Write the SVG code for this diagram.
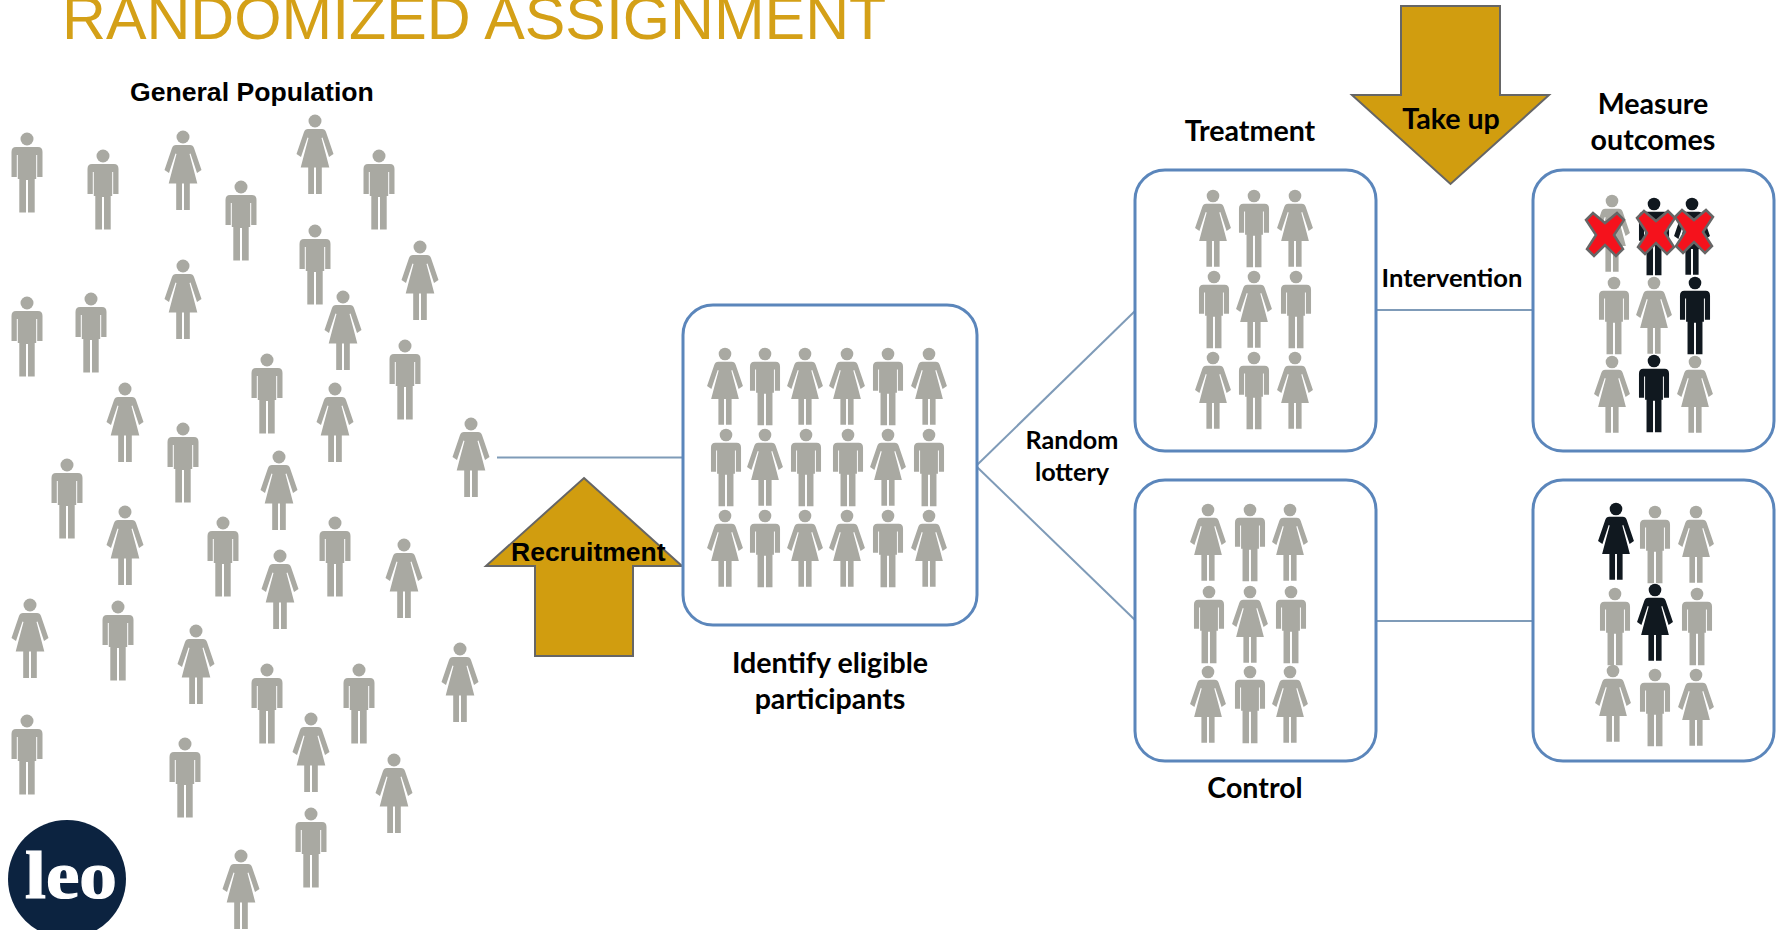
<svg xmlns="http://www.w3.org/2000/svg" width="1778" height="930" viewBox="0 0 1778 930">
<style>
.g{fill:#a9a9a2}.k{fill:#10181f}.box{fill:#fff;stroke:#5b86bb;stroke-width:3}
.c{fill:none;stroke:#7f9bb8;stroke-width:2}
.arrow{fill:#d19d0f;stroke:#666;stroke-width:2}
.x{fill:#f5121c;stroke:#666;stroke-width:2.5}
.a{font-family:"Liberation Sans",Arial,sans-serif;font-weight:700;fill:#000}
.l{font-family:"Lato","Noto Sans",sans-serif;font-weight:700;fill:#000;text-anchor:middle;font-size:28.6px}
</style>
<defs>
<g id="m"><circle r="6.5"/><path d="M-11,8H11Q15.5,8 15.5,13V38H10.2V16H9.2V40H7.7V73.5H1V41H-1V73.5H-7.7V40H-9.2V16H-10.2V38H-15.5V13Q-15.5,8 -11,8Z"/></g>
<g id="w"><circle r="6.5"/><path d="M-7,8H7Q10,8 11,11L18.5,33L14,36L7.5,16.5L6.5,17L10.5,32L14.3,46.5H6.8V73H1V46.5H-1V73H-6.8V46.5H-14.3L-10.5,32L-6.5,17L-7.5,16.5L-14,36L-18.5,33L-11,11Q-10,8 -7,8Z"/></g>
<use id="ms" href="#m" transform="scale(.97)"/>
<use id="ws" href="#w" transform="scale(.97)"/>
<path id="xm" d="M-12,-22L0,-12L12,-22L19,-15L9,0L18,14L11,21L0,10L-11,21L-18,14L-9,0L-19,-15Z"/>
</defs>
<rect width="1778" height="930" fill="#fff"/>
<text x="62" y="39" font-family="Liberation Sans,Arial,sans-serif" font-size="60.8" fill="#d4a017">RANDOMIZED ASSIGNMENT</text>
<g id="connectors">
<path class="c" d="M497,457.5H682"/>
<path class="c" d="M977,465L1135,311"/>
<path class="c" d="M977,467L1135,620"/>
<path class="c" d="M1376,310H1532"/>
<path class="c" d="M1376,621H1532"/>
</g>
<g id="population" class="g">
<text class="a" x="130" y="101" font-size="26.6">General Population</text>
<use href="#m" x="27" y="139"/><use href="#m" x="103" y="156"/><use href="#w" x="183" y="137"/><use href="#m" x="241" y="187"/><use href="#w" x="315" y="121"/><use href="#m" x="379" y="156"/><use href="#m" x="315" y="231"/><use href="#w" x="183" y="266"/><use href="#w" x="420" y="247"/><use href="#m" x="27" y="303"/><use href="#m" x="91" y="299"/><use href="#w" x="343" y="297"/><use href="#m" x="405" y="346"/><use href="#m" x="267" y="360"/><use href="#w" x="125" y="389"/><use href="#w" x="335" y="389"/><use href="#w" x="471" y="424"/><use href="#m" x="183" y="429"/><use href="#w" x="279" y="457"/><use href="#m" x="67" y="465"/><use href="#w" x="125" y="512"/><use href="#m" x="223" y="523"/><use href="#m" x="335" y="523"/><use href="#w" x="280" y="556"/><use href="#w" x="404" y="545"/><use href="#w" x="30" y="605"/><use href="#m" x="118" y="607"/><use href="#w" x="196" y="631"/><use href="#m" x="267" y="670"/><use href="#m" x="359" y="670"/><use href="#w" x="460" y="649"/><use href="#w" x="311" y="719"/><use href="#m" x="27" y="721"/><use href="#m" x="185" y="744"/><use href="#w" x="394" y="760"/><use href="#m" x="311" y="814"/><use href="#w" x="241" y="856"/>
</g>
<g id="recruitment">
<path class="arrow" d="M584,478L682,566H633V656H535V566H486Z"/>
<text class="a" x="511" y="561" font-size="26.5">Recruitment</text>
</g>
<g id="eligible">
<rect class="box" x="683" y="305" width="294" height="320" rx="30"/>
<g class="g">
<use href="#ws" x="725" y="354"/><use href="#ms" x="765" y="354"/><use href="#ws" x="805" y="354"/><use href="#ws" x="847" y="354"/><use href="#ms" x="888" y="354"/><use href="#ws" x="929" y="354"/>
<use href="#ms" x="726" y="435"/><use href="#ws" x="765" y="435"/><use href="#ms" x="806" y="435"/><use href="#ms" x="848" y="435"/><use href="#ws" x="888" y="435"/><use href="#ms" x="929" y="435"/>
<use href="#ws" x="725" y="516"/><use href="#ms" x="765" y="516"/><use href="#ws" x="805" y="516"/><use href="#ws" x="847" y="516"/><use href="#ms" x="888" y="516"/><use href="#ws" x="929" y="516"/>
</g>
<text class="l" x="830" y="673">Identify eligible</text>
<text class="l" x="830" y="709">participants</text>
</g>
<g id="lottery"><text class="l" x="1072" y="449" style="font-size:25.2px">Random</text><text class="l" x="1072" y="481" style="font-size:25.2px">lottery</text></g>
<g id="treatment">
<text class="l" x="1250" y="141">Treatment</text>
<rect class="box" x="1135" y="170" width="241" height="281" rx="30"/>
<g class="g">
<use href="#ws" x="1213" y="196"/><use href="#ms" x="1254" y="196"/><use href="#ws" x="1295" y="196"/>
<use href="#ms" x="1214" y="277"/><use href="#ws" x="1254" y="277"/><use href="#ms" x="1296" y="277"/>
<use href="#ws" x="1213" y="358"/><use href="#ms" x="1254" y="358"/><use href="#ws" x="1295" y="358"/>
</g>
</g>
<g id="control">
<rect class="box" x="1135" y="480" width="241" height="281" rx="30"/>
<g class="g">
<use href="#ws" x="1208" y="510"/><use href="#ms" x="1250" y="510"/><use href="#ws" x="1290" y="510"/>
<use href="#ms" x="1209" y="592"/><use href="#ws" x="1250" y="592"/><use href="#ms" x="1291" y="592"/>
<use href="#ws" x="1208" y="672"/><use href="#ms" x="1250" y="672"/><use href="#ws" x="1290" y="672"/>
</g>
<text class="l" x="1255" y="798">Control</text>
</g>
<g id="intervention"><text class="l" x="1452" y="287" style="font-size:25.6px">Intervention</text></g>
<g id="takeup">
<path class="arrow" d="M1401,6H1500V95H1549L1450.5,184L1352,95H1401Z"/>
<text class="l" x="1451" y="129">Take up</text>
</g>
<g id="outcomes-treatment">
<text class="l" x="1653" y="114">Measure</text>
<text class="l" x="1653" y="150">outcomes</text>
<rect class="box" x="1533" y="170" width="241" height="281" rx="30"/>
<use class="g" href="#ws" x="1612" y="201"/><use class="k" href="#ms" x="1654" y="204"/><use class="k" href="#ws" x="1692" y="204"/>
<use class="g" href="#ms" x="1614" y="283"/><use class="g" href="#ws" x="1654" y="283"/><use class="k" href="#ms" x="1695" y="283"/>
<use class="g" href="#ws" x="1612" y="362"/><use class="k" href="#ms" x="1654" y="361"/><use class="g" href="#ws" x="1695" y="362"/>
<use class="x" href="#xm" x="1605" y="235"/>
<use class="x" href="#xm" x="1656" y="233"/>
<use class="x" href="#xm" x="1694" y="232"/>
</g>
<g id="outcomes-control">
<rect class="box" x="1533" y="480" width="241" height="281" rx="30"/>
<use class="k" href="#ws" x="1616" y="509"/><use class="g" href="#ms" x="1655" y="512"/><use class="g" href="#ws" x="1696" y="512"/>
<use class="g" href="#ms" x="1615" y="594"/><use class="k" href="#ws" x="1655" y="590"/><use class="g" href="#ms" x="1697" y="594"/>
<use class="g" href="#ws" x="1613" y="671"/><use class="g" href="#ms" x="1655" y="675"/><use class="g" href="#ws" x="1696" y="675"/>
</g>
<g id="logo">
<circle cx="67" cy="879" r="59" fill="#0c2340"/>
<text x="25" y="898" font-family="Liberation Serif,serif" font-weight="700" font-size="68" fill="#fff" stroke="#fff" stroke-width="1.2" textLength="92" lengthAdjust="spacingAndGlyphs">leo</text>
</g>
</svg>
